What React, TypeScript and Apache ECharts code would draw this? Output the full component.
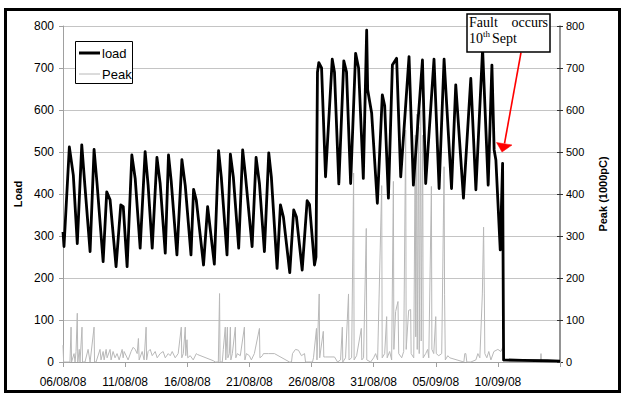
import React, { useEffect, useRef } from 'react';
import * as echarts from 'echarts';

// x values are days since 06/08/08 00:00
const X_TICK_LABELS = ['06/08/08', '11/08/08', '16/08/08', '21/08/08', '26/08/08', '31/08/08', '05/09/08', '10/09/08', ''];

const LOAD_DAYS = [0.00,0.08,0.51,0.83,1.15,1.51,1.77,2.18,2.50,2.74,3.23,3.52,3.79,4.27,4.65,4.85,5.16,5.54,5.81,6.21,6.61,6.85,7.18,7.56,7.82,8.23,8.49,8.71,9.17,9.57,9.84,10.30,10.51,10.73,11.31,11.64,12.18,12.52,12.74,13.20,13.47,13.71,14.14,14.46,14.68,15.22,15.54,15.81,16.21,16.56,16.77,17.23,17.50,17.74,18.25,18.57,18.79,19.25,19.65,19.84,20.24,20.36,20.48,20.59,20.81,21.13,21.67,21.85,22.20,22.60,22.82,23.15,23.55,23.79,24.17,24.44,24.52,24.68,24.84,25.30,25.70,25.89,26.19,26.51,26.85,27.18,27.85,28.20,28.93,29.19,29.86,30.27,30.67,31.27,31.61,32.23,32.82,33.23,33.77,34.22,34.52,34.70,34.84,35.19,35.38,35.46,37.00,39.00,40.00];
const LOAD_VALUES = [310,275,512,445,282,517,417,263,506,425,239,405,386,227,374,370,227,493,437,271,501,421,271,487,425,259,493,430,255,482,420,255,411,385,231,370,233,503,440,255,495,440,271,505,445,275,487,425,263,498,440,223,374,345,213,362,345,219,384,375,231,250,690,713,700,441,721,690,424,717,690,425,735,700,437,790,648,620,593,378,636,610,390,707,723,441,727,421,719,425,721,413,721,413,660,390,675,410,745,421,707,505,481,267,473,5,4,3,2];

const PEAK_DAYS = [0.00,0.05,0.56,0.65,0.69,0.89,0.97,1.05,1.15,1.19,1.31,1.37,1.53,1.57,1.77,2.02,2.18,2.50,2.54,2.66,2.98,3.06,3.23,3.31,3.47,3.55,3.79,3.87,4.03,4.19,4.35,4.52,4.76,4.84,4.92,5.24,5.48,5.65,5.81,5.97,6.07,6.13,6.37,6.53,6.69,6.73,6.85,7.02,7.18,7.42,7.58,7.82,8.06,8.23,8.47,8.63,8.79,9.03,9.27,9.52,9.56,9.68,9.84,9.88,9.98,10.04,10.24,10.48,10.73,10.81,12.10,12.26,12.50,12.60,12.64,12.82,12.90,13.06,13.10,13.23,13.27,13.39,13.47,13.51,13.63,13.87,13.91,14.03,14.27,14.60,14.64,14.76,15.00,15.16,15.40,15.81,15.85,16.05,16.13,16.53,17.02,18.23,18.39,18.47,18.71,18.95,19.19,19.44,19.52,20.08,20.16,20.40,20.44,20.62,20.66,20.95,20.99,21.13,21.85,22.10,22.34,22.48,22.52,22.74,22.98,23.02,23.23,23.39,23.43,23.63,24.01,24.05,24.19,24.41,24.45,24.76,25.00,25.16,25.32,25.65,25.69,25.89,26.05,26.09,26.29,26.45,26.59,26.63,26.77,26.96,27.02,27.26,27.42,27.58,27.62,27.82,27.98,28.02,28.23,28.35,28.39,28.47,28.51,28.63,28.67,28.79,28.83,28.95,28.99,29.19,29.35,29.44,29.65,29.69,29.84,30.00,30.04,30.24,30.48,30.67,30.71,30.77,30.97,31.13,32.26,32.34,32.42,32.50,32.82,33.23,33.39,33.55,33.75,33.85,33.91,33.95,34.11,34.27,34.44,34.68,35.00,35.24,35.40,35.48,38.43,38.47,38.51,40.00];
const PEAK_VALUES = [40,0,0,83,0,20,0,25,116,0,30,0,83,0,0,30,0,83,0,0,30,5,25,5,30,10,30,5,25,10,20,5,30,10,25,5,25,35,30,20,56,5,25,5,83,5,25,30,15,25,10,20,25,10,20,15,25,10,20,83,10,20,83,15,53,10,15,5,20,18,3,0,0,163,0,0,30,83,5,83,10,20,83,5,20,83,10,20,15,83,5,20,15,5,20,80,10,15,20,20,20,0,0,20,30,28,15,20,0,0,10,80,5,162,10,73,12,12,12,0,5,83,0,10,162,5,10,450,5,15,80,5,10,318,5,0,10,20,5,420,10,20,108,10,25,5,430,30,120,144,20,10,25,552,30,123,125,20,10,540,60,590,30,560,20,600,50,540,10,20,30,10,418,30,20,108,20,15,20,465,160,5,15,10,0,20,20,0,0,5,20,10,162,321,162,20,10,25,5,25,30,25,35,0,0,20,0,0];

const SERIES_NAMES = ['load', 'Peak'];
const Y_MIN = 0;
const Y_MAX = 800;
const Y_STEP = 100;

const LOAD_COLOR = '#000000';
const PEAK_COLOR = '#b8b8b8';
const FONT = "'Liberation Sans Narrow', 'Liberation Sans', Arial, sans-serif";
const SERIF = "'Liberation Serif', 'Times New Roman', serif";

export default function App() {
  const ref = useRef<HTMLDivElement>(null);
  useEffect(() => {
    if (!ref.current) return;
    const chart = echarts.init(ref.current, undefined, { renderer: 'svg' });
    const loadData = LOAD_DAYS.map((d, i) => [d, LOAD_VALUES[i]]);
    const peakData = PEAK_DAYS.map((d, i) => [d, PEAK_VALUES[i]]);
    const option: any = {
      animation: false,
      backgroundColor: '#ffffff',
      grid: { left: 63, right: 64, top: 26, bottom: 34 },
      xAxis: {
        type: 'value',
        min: 0,
        max: 40,
        interval: 5,
        axisLine: { lineStyle: { color: '#a0a0a0', width: 1 } },
        axisTick: { show: true, length: 5, lineStyle: { color: '#a0a0a0' } },
        splitLine: { show: false },
        axisLabel: {
          fontFamily: FONT,
          fontSize: 12,
          color: '#000',
          margin: 14,
          formatter: (v: number) => X_TICK_LABELS[Math.round(v / 5)] ?? '',
        },
      },
      yAxis: [
        {
          type: 'value',
          min: Y_MIN,
          max: Y_MAX,
          interval: Y_STEP,
          name: 'Load',
          nameLocation: 'middle',
          nameRotate: 90,
          nameGap: 30,
          nameTextStyle: { fontFamily: FONT, fontSize: 11, fontWeight: 'bold', color: '#000' },
          axisLine: { show: true, lineStyle: { color: '#a0a0a0' } },
          axisTick: { show: true, length: 4, lineStyle: { color: '#a0a0a0' } },
          axisLabel: { fontFamily: FONT, fontSize: 12, color: '#000', margin: 9 },
          splitLine: { show: true, lineStyle: { color: '#c4c4c4', width: 1 } },
        },
        {
          type: 'value',
          position: 'right',
          min: Y_MIN,
          max: Y_MAX,
          interval: Y_STEP,
          name: 'Peak (1000pC)',
          nameLocation: 'middle',
          nameRotate: 90,
          nameGap: 37,
          nameTextStyle: { fontFamily: FONT, fontSize: 11, fontWeight: 'bold', color: '#000' },
          axisLine: { show: true, lineStyle: { color: '#707070', width: 1.5 } },
          axisTick: { show: true, length: 3, lineStyle: { color: '#303030' } },
          axisLabel: { fontFamily: FONT, fontSize: 11, color: '#000', margin: 6 },
          splitLine: { show: false },
        },
        {
          type: 'value',
          position: 'right',
          min: Y_MIN,
          max: Y_MAX,
          interval: Y_STEP,
          axisLine: { show: false },
          axisTick: { show: true, inside: true, length: 3, lineStyle: { color: '#303030' } },
          axisLabel: { show: false },
          splitLine: { show: false },
        },
      ],
      series: [
        {
          name: SERIES_NAMES[1],
          type: 'line',
          yAxisIndex: 1,
          data: peakData,
          symbol: 'none',
          showSymbol: false,
          lineStyle: { color: PEAK_COLOR, width: 1 },
          itemStyle: { color: PEAK_COLOR },
          z: 2,
        },
        {
          name: SERIES_NAMES[0],
          type: 'line',
          yAxisIndex: 0,
          data: loadData,
          symbol: 'none',
          showSymbol: false,
          lineStyle: { color: LOAD_COLOR, width: 2.8, join: 'round' },
          itemStyle: { color: LOAD_COLOR },
          z: 3,
        },
      ],
      graphic: [
        {
          type: 'rect',
          shape: { x: 5.5, y: 9.5, width: 614, height: 382 },
          style: { fill: 'none', stroke: '#000', lineWidth: 3 },
          z: 100,
        },
        // legend
        {
          type: 'rect',
          shape: { x: 75.5, y: 41.5, width: 57, height: 42 },
          style: { fill: '#fff', stroke: '#000', lineWidth: 1 },
          z: 100,
        },
        {
          type: 'line',
          shape: { x1: 79, y1: 53, x2: 100, y2: 53 },
          style: { stroke: LOAD_COLOR, lineWidth: 3 },
          z: 101,
        },
        {
          type: 'line',
          shape: { x1: 79, y1: 74, x2: 100, y2: 74 },
          style: { stroke: PEAK_COLOR, lineWidth: 1 },
          z: 101,
        },
        {
          type: 'text',
          x: 102,
          y: 53,
          style: { text: SERIES_NAMES[0], fontFamily: FONT, fontSize: 13, fill: '#000', verticalAlign: 'middle', align: 'left' },
          z: 101,
        },
        {
          type: 'text',
          x: 102,
          y: 74,
          style: { text: SERIES_NAMES[1], fontFamily: FONT, fontSize: 13, fill: '#000', verticalAlign: 'middle', align: 'left' },
          z: 101,
        },
        // annotation
        {
          type: 'line',
          shape: { x1: 521, y1: 52.5, x2: 504.5, y2: 143.5 },
          style: { stroke: '#ff0000', lineWidth: 1.6 },
          z: 100,
        },
        {
          type: 'polygon',
          shape: { points: [[502, 152], [496.5, 142.5], [512, 145]] },
          style: { fill: '#ff0000', stroke: '#ff0000', lineWidth: 0.5 },
          z: 100,
        },
        {
          type: 'rect',
          shape: { x: 467, y: 14, width: 83, height: 38 },
          style: { fill: '#fff', stroke: '#000', lineWidth: 1.5 },
          z: 100,
        },
        {
          type: 'text',
          x: 469,
          y: 22,
          style: { text: 'Fault', fontFamily: SERIF, fontSize: 14, fill: '#000', verticalAlign: 'middle', align: 'left' },
          z: 101,
        },
        {
          type: 'text',
          x: 548,
          y: 22,
          style: { text: 'occurs', fontFamily: SERIF, fontSize: 14, fill: '#000', verticalAlign: 'middle', align: 'right' },
          z: 101,
        },
        {
          type: 'text',
          x: 469,
          y: 38,
          style: { text: '10', fontFamily: SERIF, fontSize: 14, fill: '#000', verticalAlign: 'middle', align: 'left' },
          z: 101,
        },
        {
          type: 'text',
          x: 483,
          y: 34,
          style: { text: 'th', fontFamily: SERIF, fontSize: 9, fill: '#000', verticalAlign: 'middle', align: 'left' },
          z: 101,
        },
        {
          type: 'text',
          x: 492,
          y: 38,
          style: { text: 'Sept', fontFamily: SERIF, fontSize: 14, fill: '#000', verticalAlign: 'middle', align: 'left' },
          z: 101,
        },
      ],
    };
    chart.setOption(option);
    return () => chart.dispose();
  }, []);
  return (
    <div
      ref={ref}
      style={{ position: 'absolute', left: 0, top: 0, width: 624, height: 396, background: '#fff' }}
    />
  );
}
